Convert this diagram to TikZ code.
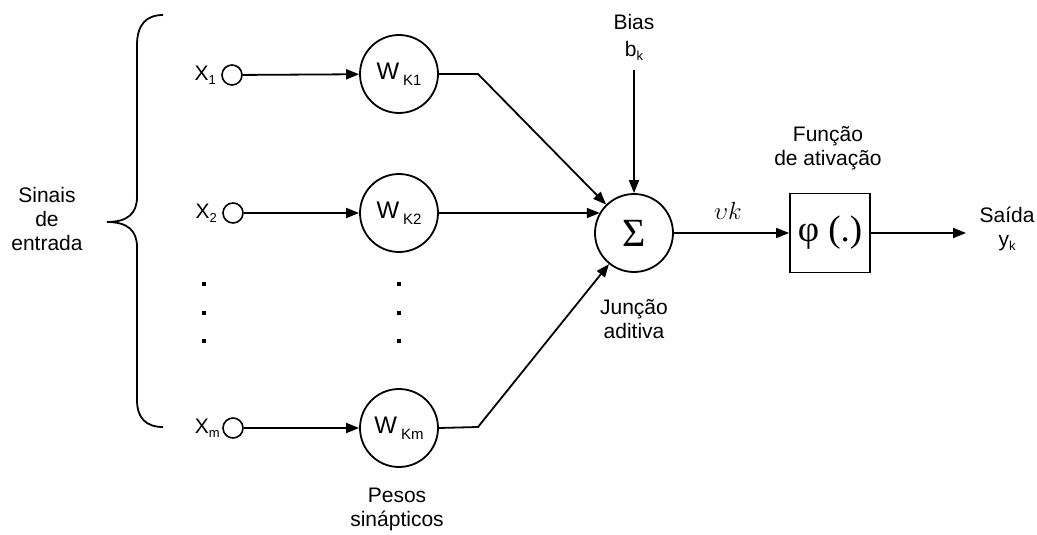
\documentclass[tikz,border=0pt]{standalone}
\usepackage{fontspec}
\setmainfont{Liberation Sans}
\newfontfamily\serifgr{Liberation Serif}
\usetikzlibrary{arrows.meta}
\newcommand{\mysub}[1]{\raisebox{-4pt}{\fontsize{13}{13}\selectfont #1}}
\newcommand{\wsub}[1]{\raisebox{-6pt}{\fontsize{15}{15}\selectfont #1}}
\begin{document}
\begin{tikzpicture}[x=1pt,y=-1pt,
  txt/.style={font=\fontsize{21}{24}\selectfont, align=center, inner sep=0pt},
  incirc/.style={circle, draw, line width=1.6pt, minimum size=20pt, inner sep=0pt},
  wcirc/.style={circle, draw, line width=1.8pt, minimum size=78pt, inner sep=0pt, font=\fontsize{24}{24}\selectfont},
  arr/.style={line width=1.8pt, -{Triangle[length=13pt,width=10pt]}},
  dotsq/.style={fill=black, minimum size=3.2pt, inner sep=0pt, rectangle}
]
\useasboundingbox (0,0) rectangle (1037,535);

% brace
\draw[line width=1.8pt] (163,15) .. controls (146,15) and (137,25) .. (137,45)
  -- (137,197) .. controls (137,214) and (127,222) .. (107,222)
  .. controls (127,222) and (137,230) .. (137,247)
  -- (137,400) .. controls (137,418) and (146,427) .. (163,427);
\node[txt] (sinais) at (47,219) {Sinais\\de\\entrada};

% inputs
\node[incirc] (x1) at (232,75) {};
\node[incirc] (x2) at (233,213) {};
\node[incirc] (xm) at (233,428) {};
\node[txt, anchor=east] (lx1) at (216,75) {X\mysub{1}};
\node[txt, anchor=east] (lx2) at (217,213) {X\mysub{2}};
\node[txt, anchor=east] (lxm) at (220,428) {X\mysub{m}};

% weights
\node[wcirc] (w1) at (399,74) {W\hspace{4pt}\wsub{K1}};
\node[wcirc] (w2) at (399,213) {W\hspace{4pt}\wsub{K2}};
\node[wcirc] (wm) at (399,428) {W\hspace{4pt}\wsub{Km}};

\draw[arr] (x1) -- (w1);
\draw[arr] (x2) -- (w2);
\draw[arr] (xm) -- (wm);

% dots
\foreach \yy [count=\i] in {284,313,341} {
  \node[dotsq] (dl\i) at (204,\yy) {};
  \node[dotsq] (dr\i) at (399,\yy) {};
}

\node[txt] (pesos) at (397,509) {Pesos\\sinápticos};

% summation
\node[circle, draw, line width=1.8pt, minimum size=78pt, inner sep=0pt] (sig) at (634,233) {\serifgr\fontsize{40}{40}\selectfont Σ};
\coordinate (k1) at (478,74);
\coordinate (km) at (478,427);
\draw[arr] (w1.east) -- (k1) -- (sig);
\draw[arr] (w2.east) -- (w2.east -| sig.149);
\draw[arr] (wm.east) -- (km) -- (sig);

\node[txt] (bias) at (634,37) {Bias\\[3pt]b\mysub{k}};
\draw[arr] (634,70) -- (sig.north);

\node[txt] (junc) at (634,319) {Junção\\aditiva};

% activation
\node[draw, line width=1.8pt, minimum width=80pt, minimum height=79pt, inner sep=0pt] (box) at (830,233) {\serifgr\fontsize{37}{37}\selectfont φ (.)};
\draw[arr] (sig.east) -- (box.west);
\node[inner sep=0pt] (vk) at (728,211) {\fontsize{31}{31}\selectfont$\upsilon k$};
\node[txt] (func) at (828,148) {Função\\de ativação};

\coordinate (out) at (966,233);
\draw[arr] (box.east) -- (out);
\node[txt] (saida) at (1007,229) {Saída\\y\mysub{k}};
\end{tikzpicture}
\end{document}
